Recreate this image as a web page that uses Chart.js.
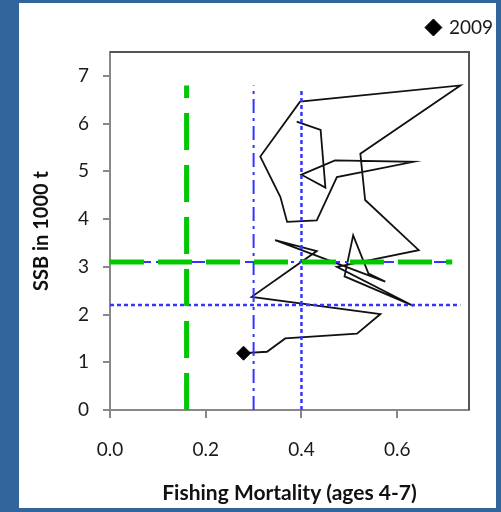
<!DOCTYPE html>
<html>
<head>
<meta charset="utf-8">
<script src="https://cdn.jsdelivr.net/npm/chart.js@4.4.1/dist/chart.umd.min.js"></script>
<style>
  html, body { margin: 0; padding: 0; background: #31659b; }
  body { width: 501px; height: 512px; position: relative; overflow: hidden; }
  #panel { position: absolute; left: 19px; top: 3px; width: 477px; height: 505px; background: #fff; }
  #chart { position: absolute; left: 0; top: 0; }
</style>
</head>
<body>
<div id="panel"></div>
<canvas id="chart" width="501" height="512"></canvas>
<script>
// F (ages 4-7) and SSB (1000 t), 1980-2009
var fishingMortality = [0.390, 0.440, 0.450, 0.400, 0.470, 0.634, 0.474, 0.432, 0.370, 0.356,
                        0.314, 0.397, 0.732, 0.523, 0.533, 0.645, 0.474, 0.634, 0.490, 0.508,
                        0.540, 0.575, 0.345, 0.432, 0.296, 0.565, 0.516, 0.366, 0.328, 0.279];
var ssb = [6.04, 5.87, 4.66, 4.93, 5.23, 5.20, 4.88, 3.97, 3.94, 4.46,
           5.31, 6.46, 6.80, 5.37, 4.40, 3.35, 3.00, 2.18, 2.80, 3.66,
           2.86, 2.69, 3.56, 3.33, 2.37, 2.01, 1.60, 1.50, 1.22, 1.19];
var lastYear = '2009';

// reference points: F lines (vertical) and B lines (horizontal)
var refF = [0.16, 0.30, 0.40];
var refFTop = [6.8, 6.8, 6.7];
var refB = [3.1, 2.2];
var refBEnd = [0.715, 0.732];

var xTicks = [0, 0.2, 0.4, 0.6];
var yTicks = [0, 1, 2, 3, 4, 5, 6, 7];

document.addEventListener('DOMContentLoaded', function () {
  var GREEN = '#00c800';
  var BLUE = '#3535ff';
  var FONT = 'Lato, "Open Sans", sans-serif';

  function vline(i) { return [{x: refF[i], y: 0}, {x: refF[i], y: refFTop[i]}]; }
  function hline(i) { return [{x: 0, y: refB[i]}, {x: refBEnd[i], y: refB[i]}]; }

  var trajectory = fishingMortality.map(function (f, i) { return {x: f, y: ssb[i]}; });
  var last = trajectory[trajectory.length - 1];

  function ref(data, color, width, dash, order) {
    return {
      label: '', data: data, showLine: true, pointRadius: 0,
      borderColor: color, borderWidth: width, borderDash: dash,
      borderCapStyle: 'butt', order: order
    };
  }

  // empty axis used only as spacing around the plot box
  function spacer(position, size) {
    return {
      position: position,
      display: true,
      grid: { display: false },
      border: { display: false },
      ticks: { display: false },
      afterFit: function (s) {
        if (s.isHorizontal()) { s.height = size; } else { s.width = size; }
      }
    };
  }

  // top and right edge of the plot box
  var frame = {
    id: 'frame',
    afterDraw: function (chart) {
      var a = chart.chartArea, ctx = chart.ctx;
      ctx.save();
      ctx.strokeStyle = '#555';
      ctx.lineWidth = 2;
      ctx.beginPath();
      ctx.moveTo(a.left, a.top);
      ctx.lineTo(a.right, a.top);
      ctx.lineTo(a.right, a.bottom);
      ctx.stroke();
      ctx.restore();
    }
  };

  var config = {
    type: 'scatter',
    data: {
      datasets: [
        {
          label: lastYear, data: [last], pointStyle: 'rectRot', pointRadius: 7,
          backgroundColor: '#000', borderColor: '#000', order: 0
        },
        ref(vline(0), GREEN, 5, [37, 15], 1),
        ref(hline(0), GREEN, 5, [34, 14], 1),
        ref(hline(0), BLUE, 2, [14, 5, 3, 5], 3),
        ref(vline(1), BLUE, 2, [14, 5, 3, 5], 2),
        ref(vline(2), BLUE, 2.5, [4, 3], 2),
        ref(hline(1), BLUE, 2.5, [4, 3], 2),
        {
          label: '', data: trajectory, showLine: true, pointRadius: 0,
          borderColor: '#111', borderWidth: 1.8, tension: 0, order: 5
        }
      ]
    },
    options: {
      responsive: false,
      animation: false,
      layout: { padding: { left: 20, top: 10, right: 0, bottom: 0 } },
      plugins: {
        tooltip: { enabled: false },
        legend: {
          position: 'top',
          align: 'end',
          labels: {
            filter: function (item) { return item.datasetIndex === 0; },
            usePointStyle: true,
            boxWidth: 12,
            boxHeight: 12,
            padding: 8,
            color: '#1a1a1a',
            font: { family: FONT, size: 19 }
          }
        }
      },
      scales: {
        x: {
          type: 'linear',
          min: 0,
          max: 0.75,
          afterBuildTicks: function (s) { s.ticks = xTicks.map(function (v) { return {value: v}; }); },
          afterFit: function (s) { s.height = 102; },
          ticks: {
            padding: 20,
            color: '#1a1a1a',
            font: { family: FONT, size: 19 },
            callback: function (v) { return v.toFixed(1); }
          },
          grid: { drawOnChartArea: false, tickLength: 8, color: '#888', lineWidth: 2 },
          border: { color: '#888', width: 2 },
          title: {
            display: true,
            text: 'Fishing Mortality (ages 4-7)',
            color: '#111',
            font: { family: FONT, size: 21, weight: 'bold' },
            padding: { top: 0, bottom: 6 }
          }
        },
        y: {
          min: 0,
          max: 7.5,
          afterBuildTicks: function (s) { s.ticks = yTicks.map(function (v) { return {value: v}; }); },
          afterFit: function (s) { s.width = 90; },
          ticks: {
            padding: 14,
            color: '#1a1a1a',
            font: { family: FONT, size: 19 }
          },
          grid: { drawOnChartArea: false, tickLength: 7, color: '#888', lineWidth: 2 },
          border: { color: '#888', width: 2 },
          title: {
            display: true,
            text: 'SSB in 1000 t',
            color: '#111',
            font: { family: FONT, size: 20, weight: 'bold' },
            padding: { top: 10, bottom: 0 }
          }
        },
        xTop: spacer('top', 5),
        yRight: spacer('right', 32)
      }
    },
    plugins: [frame]
  };

  var ctx = document.getElementById('chart').getContext('2d');
  new Chart(ctx, config);
});
</script>
</body>
</html>
